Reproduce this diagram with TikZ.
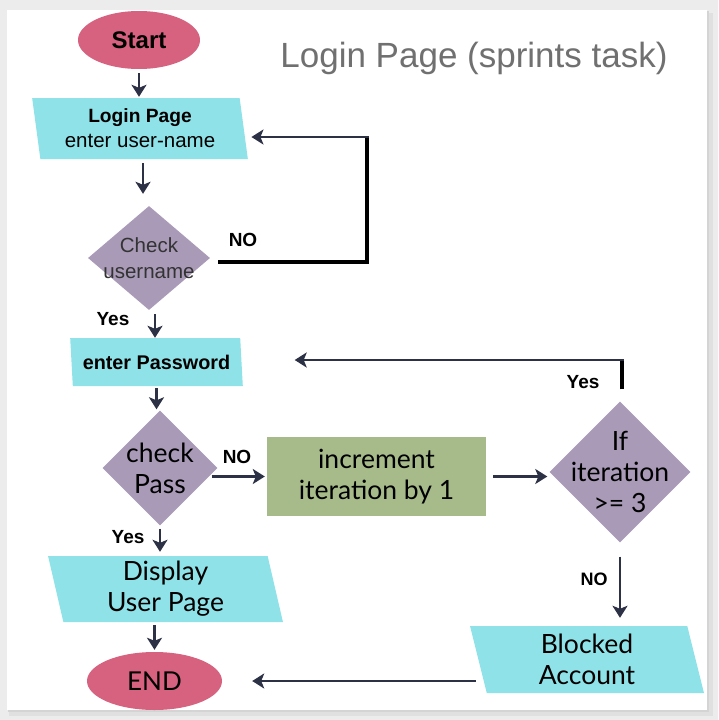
\documentclass[tikz,border=0pt]{standalone}
\usepackage{fontspec}
\setmainfont{Liberation Sans}
\newfontfamily\latofont{Lato}
\usetikzlibrary{positioning,shapes,arrows.meta,calc}

\definecolor{bggrey}{HTML}{ECECEC}
\definecolor{termpink}{HTML}{D6627F}
\definecolor{iocyan}{HTML}{8FE3E8}
\definecolor{decpurple}{HTML}{A99AB8}
\definecolor{procgreen}{HTML}{A7BB8A}
\definecolor{arrownavy}{HTML}{2D3145}
\definecolor{titlegrey}{HTML}{707070}

\begin{document}
\begin{tikzpicture}[x=1pt,y=-1pt,>={Stealth[length=12pt,width=15pt,inset=3pt]},
    node distance=2cm,
    arr/.style={->,line width=2.8pt,draw=arrownavy},
    loopline/.style={line width=3.2pt,draw=black},
    term node/.style={ellipse,fill=termpink,inner sep=0pt},
    io node/.style={trapezium,trapezium left angle=99,trapezium right angle=81,
                    trapezium stretches=true,fill=iocyan,inner sep=0pt,align=center},
    dec node/.style={diamond,fill=decpurple,inner sep=0pt,aspect=1},
    proc node/.style={rectangle,fill=procgreen,inner sep=0pt,align=center},
    lato/.style={font=\latofont\fontsize{26.5}{31}\selectfont},
    lbl/.style={font=\bfseries\fontsize{19}{22}\selectfont}
   ]

  % page and card
  \fill[bggrey] (0,0) rectangle (718,720);
  \fill[black!12] (9,13) rectangle (713,716);
  \fill[black!17] (8,11) rectangle (709,712);
  \fill[white] (7,10) rectangle (707,710);

  \node[term node,minimum width=122pt,minimum height=58pt,
        font=\bfseries\fontsize{24}{28}\selectfont] (start) at (139,40) {Start};
  \node[io node,minimum width=216pt,minimum height=61pt,
        font=\fontsize{20.5}{25}\selectfont]
        (login) [below of=start,node distance=88.5pt,xshift=1pt]
        {\textbf{\fontsize{19.2}{25}\selectfont Login Page}\\enter user-name};
  \node[dec node,minimum width=122pt,minimum height=104pt,
        label={[align=center,text=black!80,font=\fontsize{20.5}{26}\selectfont]center:Check\\username}]
        (check) [below of=login,node distance=129.5pt,xshift=9pt] {};
  \node[io node,minimum width=173pt,minimum height=48pt,
        font=\bfseries\fontsize{19.8}{22}\selectfont]
        (password) [below of=check,node distance=104pt,xshift=7.5pt] {enter Password};
  \node[dec node,minimum width=115pt,minimum height=115pt,
        label={[align=center,lato]center:check\\Pass}]
        (checkpass) [below of=password,node distance=106pt,xshift=3.5pt] {};
  \node[io node,lato,minimum width=235pt,minimum height=66pt]
        (display) [below of=checkpass,node distance=121pt,xshift=5.5pt] {Display\\User Page};
  \node[term node,minimum width=135pt,minimum height=58pt,
        font=\latofont\fontsize{26}{30}\selectfont]
        (end) [below of=display,node distance=92pt,xshift=-11pt] {END};
  \node[proc node,lato,minimum width=219pt,minimum height=79pt]
        (incr) [right of=checkpass,node distance=216.5pt,yshift=-8.5pt] {increment\\iteration by 1};
  \node[dec node,minimum width=141pt,minimum height=141pt,
        label={[align=center,lato]center:If\\iteration\\>= 3}]
        (iter) [right of=incr,node distance=243.5pt,yshift=4.5pt] {};
  \node[io node,lato,minimum width=234pt,minimum height=67pt]
        (blocked) [below of=iter,node distance=187.5pt,xshift=-33pt] {Blocked\\Account};

  \node[text=titlegrey,font=\fontsize{35}{40}\selectfont] (heading) at (474,58) {Login Page (sprints task)};

  % branch labels
  \node[lbl] (nouser) at (243,240) {NO};
  \node[lbl] (yesuser) at (113,319) {Yes};
  \node[lbl] (yesiter) at (583,382) {Yes};
  \node[lbl] (nopass) at (237,457) {NO};
  \node[lbl] (yespass) at (128,537) {Yes};
  \node[lbl,font=\bfseries\fontsize{18}{22}\selectfont] (noiter) at (594,579) {NO};

  % bends of the two loops
  \coordinate[right of=login,node distance=227pt,yshift=-8.5pt] (nobend);
  \coordinate[above of=iter,node distance=112pt,xshift=2pt] (yesbend);

  % main flow
  \draw[arr,shorten <=4pt,shorten >=1pt] (start.south) -- (start.south |- login.north);
  \draw[arr,shorten <=4pt,shorten >=12pt] ([xshift=3pt]login.south) -- ([xshift=3pt]login.south |- check.north);
  \draw[arr,shorten <=4pt] ([xshift=6pt]check.south) -- ([xshift=6pt]check.south |- password.north);
  \draw[arr,shorten <=2pt,shorten >=1pt] (password.south) -- (password.south |- checkpass.north);
  \draw[arr,shorten <=3pt,shorten >=4pt] (checkpass.south) -- (checkpass.south |- display.north);
  \draw[arr,shorten <=3pt,shorten >=2pt] (display.south -| end.north) -- (end.north);
  \draw[arr,shorten <=-6pt,shorten >=2pt] (checkpass.east |- incr.west) -- (incr.west);
  \draw[arr,shorten <=7pt,shorten >=2pt] (incr.east) -- (incr.east -| iter.west);
  \draw[arr,shorten <=14pt,shorten >=8pt] (iter.south) -- (iter.south |- blocked.north);
  \draw[arr,shorten <=2.5pt,shorten >=30pt] (blocked.west |- end.east) -- (end.east);

  % loops back
  \draw[loopline] ([xshift=8pt,yshift=-4pt]check.east) -| (nobend);
  \draw[arr,shorten <=-1.5pt,shorten >=7.5pt] (nobend) -- (nobend -| login.east);
  \draw[loopline] ([xshift=2pt,yshift=12pt]iter.north) -- (yesbend);
  \draw[arr,shorten <=-1.5pt,shorten >=53pt] (yesbend) -- (yesbend -| password.east);
\end{tikzpicture}
\end{document}
